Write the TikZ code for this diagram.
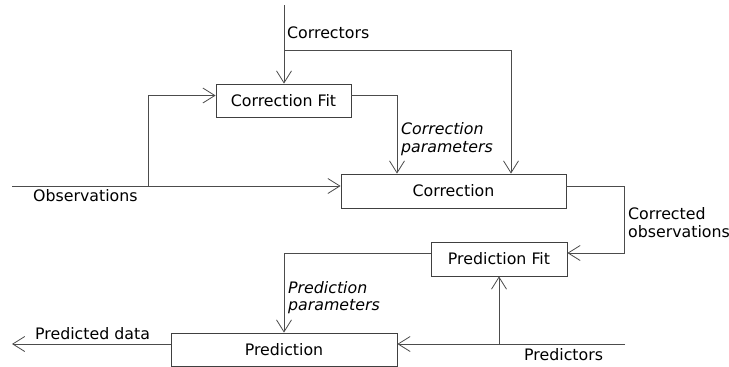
\documentclass[tikz,border=0pt]{standalone}
\usepackage{fontspec}
\setmainfont{DejaVu Sans}
\usetikzlibrary{arrows.meta}
\begin{document}
\begin{tikzpicture}[x=1pt,y=-1pt,
  every node/.style={font=\fontsize{15.8}{17.5}\selectfont},
  box/.style={draw=black!75, line width=0.8pt, rectangle, inner sep=0pt},
  conn/.style={draw=black!70, line width=0.8pt, -{Straight Barb[length=12pt,width=15pt,line width=0.8pt]}},
  lbl/.style={inner sep=0pt, anchor=base west},
  mlbl/.style={inner sep=0pt, anchor=north west, align=left},
  itl/.style={font=\fontsize{15.8}{17.5}\selectfont\itshape}]
\useasboundingbox (0,0) rectangle (729,367);
% boxes
\node[box, minimum width=135pt, minimum height=33pt] (cfit) at (283.5,100.5) {Correction Fit};
\node[box, minimum width=225pt, minimum height=34pt] (corr) at (453.5,191) {Correction};
\node[box, minimum width=136pt, minimum height=34pt] (pfit) at (499,259) {Prediction Fit};
\node[box, minimum width=226pt, minimum height=33pt] (pred) at (284,349.5) {Prediction};
% free ends and branch points
\coordinate (ctop) at (284,5);
\coordinate (cbr) at (284,50);
\coordinate (obs) at (12,186);
\coordinate (obr) at (148,186);
\coordinate (prs) at (625,344);
\coordinate (prb) at (499,344);
\coordinate (pdend) at (12,344);
\coordinate (cout) at (624,186);
% connectors
\draw[conn] (ctop) -- (ctop |- cfit.north);
\draw[conn] (cbr) -| ([xshift=57.5pt]corr.north);
\draw[conn] ([yshift=5pt]cfit.east) -| ([xshift=-56.5pt]corr.north);
\draw[conn] (obs) -- ([yshift=5pt]corr.west);
\draw[conn] (obr) |- ([yshift=5pt]cfit.west);
\draw[conn] ([yshift=5pt]corr.east) -- (cout) |- ([yshift=6pt]pfit.east);
\draw[conn] ([yshift=6pt]pfit.west) -| (pred.north);
\draw[conn] (prs) -- ([yshift=5.5pt]pred.east);
\draw[conn] (prb) -- (pfit.south);
\draw[conn] ([yshift=5.5pt]pred.west) -- (pdend);
% labels
\node[lbl] (lcorrectors) at (287,38) {Correctors};
\node[lbl] (lobs) at (33,201) {Observations};
\node[mlbl, itl] (lcpar) at (401,122.5) {Correction\\parameters};
\node[mlbl] (lcobs) at (628,207.5) {Corrected\\observations};
\node[mlbl, itl] (lppar) at (288,281) {Prediction\\parameters};
\node[lbl] (lpd) at (35,339) {Predicted data};
\node[lbl] (lprs) at (524,360) {Predictors};
\end{tikzpicture}
\end{document}
